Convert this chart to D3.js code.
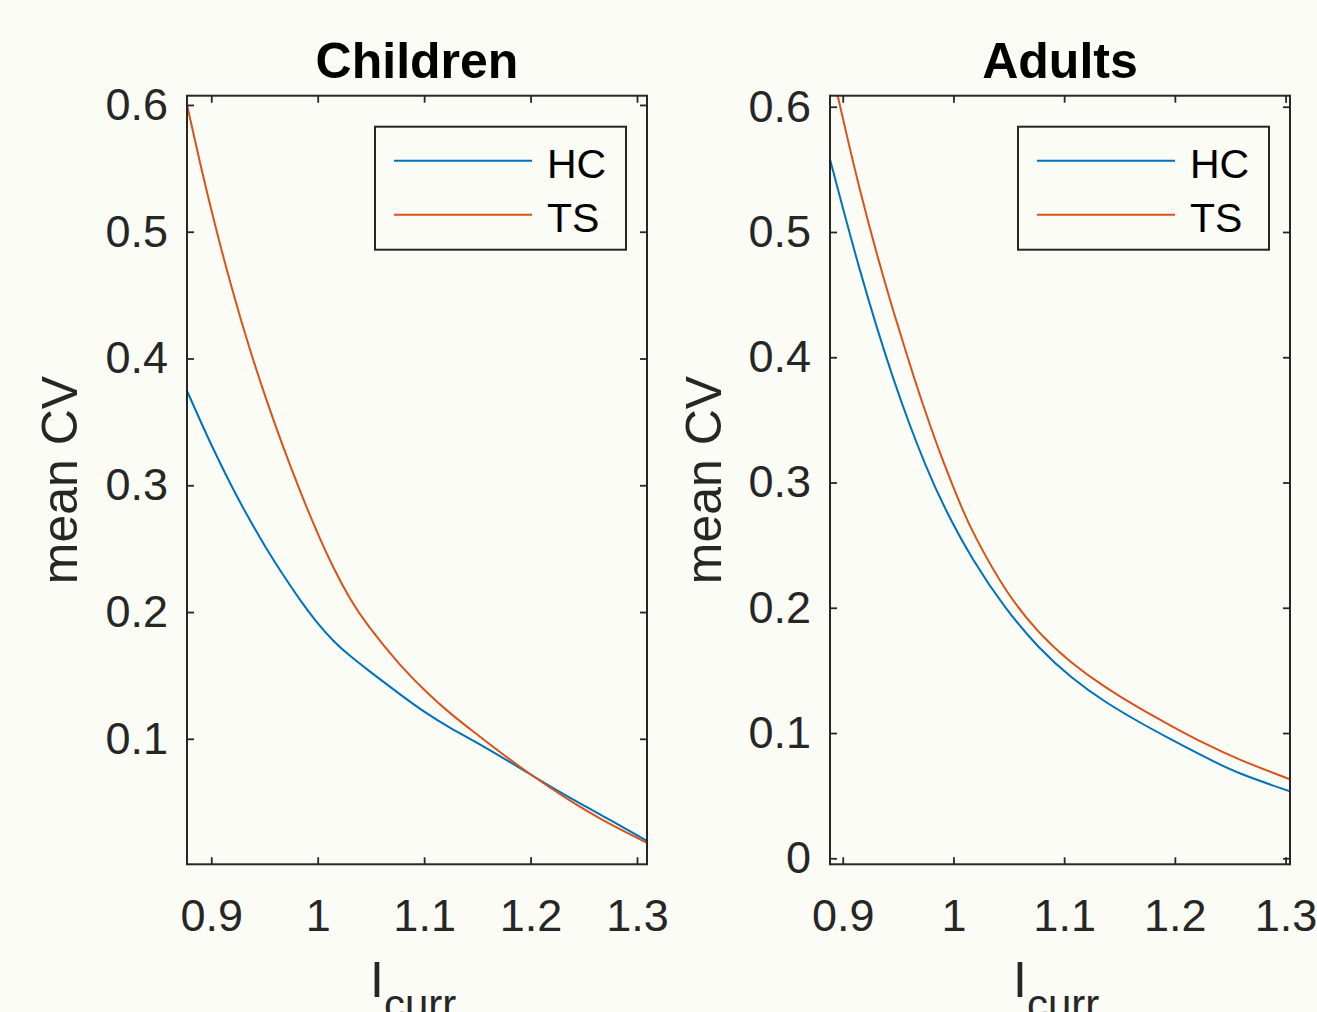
<!DOCTYPE html>
<html>
<head>
<meta charset="utf-8">
<script src="https://cdn.jsdelivr.net/npm/d3@7"></script>
<style>
  html, body { margin: 0; padding: 0; background: #fafcf5; }
  svg { display: block; font-family: "Liberation Sans", Arial, Helvetica, sans-serif; }
</style>
</head>
<body>
<svg id="chart"></svg>
<script>
// values
const childrenHcX = [0.8772, 0.892, 0.9045, 0.920, 0.9358, 0.9514, 0.967, 0.9826, 0.9983, 1.0147, 1.03, 1.046, 1.0773, 1.0998, 1.1242, 1.1555, 1.1992, 1.2337, 1.2649, 1.3094];
const childrenHcY = [0.3745, 0.3464, 0.3239, 0.2975, 0.2730, 0.2504, 0.2298, 0.2103, 0.1925, 0.1769, 0.1655, 0.1550, 0.1350, 0.1213, 0.1085, 0.0945, 0.0722, 0.0549, 0.0406, 0.0194];
const childrenTsX = [0.8772, 0.8896, 0.9038, 0.9201, 0.9358, 0.9514, 0.967, 0.9826, 0.9983, 1.0139, 1.03, 1.046, 1.0773, 1.1023, 1.1242, 1.1492, 1.1711, 1.1992, 1.2337, 1.2649, 1.3094];
const childrenTsY = [0.600, 0.5532, 0.5038, 0.4525, 0.4078, 0.3680, 0.3313, 0.2970, 0.2648, 0.2359, 0.2105, 0.1900, 0.1576, 0.1365, 0.1200, 0.1038, 0.0895, 0.0722, 0.0528, 0.0368, 0.018];

const adultsHcX = [0.8885, 0.9038, 0.9157, 0.9305, 0.9453, 0.9601, 0.9749, 0.9911, 1.0171, 1.0471, 1.0771, 1.107, 1.137, 1.167, 1.197, 1.227, 1.257, 1.304];
const adultsHcY = [0.558, 0.5067, 0.4686, 0.4242, 0.3835, 0.3465, 0.3132, 0.2808, 0.2379, 0.1989, 0.1674, 0.1435, 0.1246, 0.1090, 0.0946, 0.0808, 0.0676, 0.0535];
const adultsTsX = [0.8885, 0.895, 0.9038, 0.9157, 0.9305, 0.9453, 0.9601, 0.9749, 0.9896, 1.0074, 1.018, 1.0471, 1.0771, 1.107, 1.137, 1.167, 1.197, 1.227, 1.257, 1.304];
const adultsTsY = [0.636, 0.6103, 0.5764, 0.5324, 0.4828, 0.4377, 0.3955, 0.3555, 0.3188, 0.2796, 0.2589, 0.2123, 0.1793, 0.1553, 0.1364, 0.1202, 0.1055, 0.0914, 0.0790, 0.0630];

const seriesNames = ["HC", "TS"];
const seriesColors = ["#0072bd", "#d95319"];
const panelTitles = ["Children", "Adults"];

const xTicks = [0.9, 1.0, 1.1, 1.2, 1.3];
const xTickLabels = ["0.9", "1", "1.1", "1.2", "1.3"];
const childrenYTicks = [0.1, 0.2, 0.3, 0.4, 0.5, 0.6];
const childrenYTickLabels = ["0.1", "0.2", "0.3", "0.4", "0.5", "0.6"];
const adultsYTicks = [0, 0.1, 0.2, 0.3, 0.4, 0.5, 0.6];
const adultsYTickLabels = ["0", "0.1", "0.2", "0.3", "0.4", "0.5", "0.6"];

const W = 1317, H = 1012;
const ink = "#262626";

const svg = d3.select("#chart").attr("width", W).attr("height", H);
svg.append("rect").attr("width", W).attr("height", H).attr("fill", "#fafcf5");

const panels = [
  {
    title: panelTitles[0], left: 187, right: 647,
    xDomain: [0.8772, 1.3094], yDomain: [0.001, 0.6073],
    yTicks: childrenYTicks, yTickLabels: childrenYTickLabels,
    series: [d3.zip(childrenHcX, childrenHcY), d3.zip(childrenTsX, childrenTsY)],
    ylabelX: 77
  },
  {
    title: panelTitles[1], left: 830, right: 1290,
    xDomain: [0.8885, 1.304], yDomain: [-0.0048, 0.6088],
    yTicks: adultsYTicks, yTickLabels: adultsYTickLabels,
    series: [d3.zip(adultsHcX, adultsHcY), d3.zip(adultsTsX, adultsTsY)],
    ylabelX: 721
  }
];
const axTop = 95.7, axBottom = 864.3;

panels.forEach((p, pi) => {
  const x = d3.scaleLinear().domain(p.xDomain).range([p.left, p.right]);
  const y = d3.scaleLinear().domain(p.yDomain).range([axBottom, axTop]);
  const g = svg.append("g");
  const cx = (p.left + p.right) / 2;

  // clip
  g.append("clipPath").attr("id", "clip" + pi)
    .append("rect").attr("x", p.left).attr("y", axTop)
    .attr("width", p.right - p.left).attr("height", axBottom - axTop);

  const line = d3.line()
    .x(d => x(d[0])).y(d => y(d[1]))
    .curve(d3.curveBasis);

  p.series.forEach((s, i) => {
    g.append("path").datum(s)
      .attr("clip-path", "url(#clip" + pi + ")")
      .attr("fill", "none")
      .attr("stroke", seriesColors[i])
      .attr("stroke-width", 2)
      .attr("d", line);
  });

  // axes, ticks inward on all sides
  const tickFmt = (labels, ticks) => (d) => labels[ticks.indexOf(d)];
  const xb = g.append("g").attr("transform", `translate(0,${axBottom})`)
    .call(d3.axisBottom(x).tickValues(xTicks).tickSizeInner(-7).tickSizeOuter(0)
      .tickPadding(35).tickFormat(tickFmt(xTickLabels, xTicks)));
  const xt = g.append("g").attr("transform", `translate(0,${axTop})`)
    .call(d3.axisTop(x).tickValues(xTicks).tickSizeInner(-7).tickSizeOuter(0).tickFormat(""));
  const yl = g.append("g").attr("transform", `translate(${p.left},0)`)
    .call(d3.axisLeft(y).tickValues(p.yTicks).tickSizeInner(-7).tickSizeOuter(0)
      .tickPadding(19).tickFormat(tickFmt(p.yTickLabels, p.yTicks)));
  const yr = g.append("g").attr("transform", `translate(${p.right},0)`)
    .call(d3.axisRight(y).tickValues(p.yTicks).tickSizeInner(-7).tickSizeOuter(0).tickFormat(""));

  [xb, xt, yl, yr].forEach(a => {
    a.select(".domain").remove();
    a.selectAll(".tick line").attr("stroke", ink).attr("stroke-width", 1.8);
    a.selectAll(".tick text").attr("fill", ink).style("font-size", "45px")
      .style("font-family", "'Liberation Sans', Arial, Helvetica, sans-serif");
  });

  g.append("rect")
    .attr("x", p.left).attr("y", axTop)
    .attr("width", p.right - p.left).attr("height", axBottom - axTop)
    .attr("fill", "none").attr("stroke", ink).attr("stroke-width", 2);

  // title
  g.append("text").attr("x", cx).attr("y", 78)
    .attr("text-anchor", "middle")
    .style("font-size", "50px").style("font-weight", "bold")
    .attr("fill", "#000").text(p.title);

  // y label
  g.append("text")
    .attr("transform", `translate(${p.ylabelX},${(axTop + axBottom) / 2}) rotate(-90)`)
    .attr("text-anchor", "middle")
    .style("font-size", "50px").attr("fill", ink)
    .text("mean CV");

  // x label I_curr (cut by the bottom edge, as in the source figure)
  const xl = g.append("text").attr("x", cx - 47).attr("y", 997)
    .style("font-size", "50px").attr("fill", ink);
  xl.append("tspan").text("I");
  xl.append("tspan").attr("dy", 22).style("font-size", "42px").text("curr");

  // legend
  const lw = 251, lh = 123;
  const lx = p.right - 21 - lw, ly = axTop + 31;
  const leg = g.append("g").attr("transform", `translate(${lx},${ly})`);
  leg.append("rect").attr("width", lw).attr("height", lh)
    .attr("fill", "#fafcf5").attr("stroke", ink).attr("stroke-width", 2);
  seriesNames.forEach((name, i) => {
    const yy = 34 + i * 54;
    leg.append("line").attr("x1", 19).attr("x2", 157)
      .attr("y1", yy).attr("y2", yy)
      .attr("stroke", seriesColors[i]).attr("stroke-width", 2);
    leg.append("text").attr("x", 172).attr("y", yy + 17)
      .style("font-size", "41px").attr("fill", "#000").text(name);
  });
});
</script>
</body>
</html>
